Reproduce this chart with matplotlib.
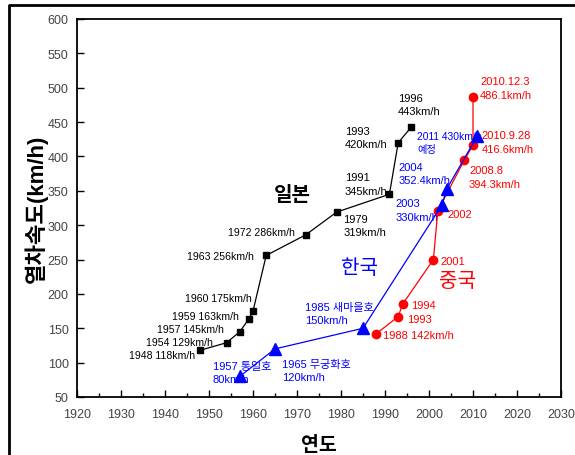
import matplotlib
matplotlib.use("Agg")
import matplotlib.pyplot as plt
from matplotlib.lines import Line2D
from matplotlib.ticker import MultipleLocator
from matplotlib import font_manager as fm

plt.rcParams['font.family'] = ['Liberation Sans', 'Noto Sans CJK KR', 'DejaVu Sans']

# Data
japan_years = [1948, 1954, 1957, 1959, 1960, 1963, 1972, 1979, 1991, 1993, 1996]
japan_speed = [118, 129, 145, 163, 175, 256, 286, 319, 345, 420, 443]

korea_years = [1957, 1965, 1985, 2003, 2004, 2011]
korea_speed = [80, 120, 150, 330, 352.4, 430]

china_years = [1988, 1993, 1994, 2001, 2002, 2008, 2010, 2010]
china_speed = [142, 167, 185, 250, 321, 394.3, 416.6, 486.1]

x_ticks = list(range(1920, 2031, 10))
y_ticks = list(range(50, 601, 50))

japan_labels_low = [
    ("1948 118km/h", 1946.8, 111),
    ("1954 129km/h", 1950.9, 130),
    ("1957 145km/h", 1953.4, 149),
    ("1959 163km/h", 1956.8, 168),
    ("1960 175km/h", 1959.8, 194),
    ("1963 256km/h", 1960.2, 255),
    ("1972 286km/h", 1969.5, 290),
]
japan_labels_high = [
    ("1979\n319km/h", 1980.5, 300),
    ("1991\n345km/h", 1980.9, 360),
    ("1993\n420km/h", 1980.9, 428),
    ("1996\n443km/h", 1993.0, 476),
]
korea_labels = [
    ("1957 통일호\n80km/h", 1950.9, 86, 8),
    ("1965 무궁화호\n120km/h", 1966.6, 89, 8),
    ("1985 새마을호\n150km/h", 1971.8, 171, 8),
    ("2003\n330km/h", 1992.3, 322, 8),
    ("2004\n352.4km/h", 1993.0, 375, 8),
    ("2011 430km/h\n예정", 1997.3, 420, 7.4),
]
china_labels = [
    ("1988 142km/h", 1989.5, 140),
    ("1993", 1995.0, 163.5),
    ("1994", 1995.9, 184),
    ("2001", 2002.5, 248),
    ("2002", 2004.3, 316),
    ("2008.8\n394.3km/h", 2009.1, 370),
    ("2010.9.28\n416.6km/h", 2012.0, 421),
    ("2010.12.3\n486.1km/h", 2011.6, 499.5),
]

# narrow font for the lower Japanese labels if available
try:
    fm.findfont(fm.FontProperties(family='Liberation Sans Narrow'), fallback_to_default=False)
    narrow_family = ['Liberation Sans Narrow', 'Noto Sans CJK KR']
    narrow_size = 9
except Exception:
    narrow_family = ['Liberation Sans', 'Noto Sans CJK KR']
    narrow_size = 7.6

fig = plt.figure(figsize=(5.75, 4.56), dpi=100)
ax = fig.add_axes([77/575, 1-398/456, (561-77)/575, (398-20)/456])

ax.plot(japan_years, japan_speed, color='black', lw=0.9, marker='s', ms=5,
        mfc='black', mec='black', zorder=3)
ax.plot(korea_years, korea_speed, color='#0000FF', lw=0.9, marker='^', ms=8,
        mfc='#0000FF', mec='#0000FF', zorder=4)
ax.plot(china_years, china_speed, color='#FF0000', lw=0.9, marker='o', ms=6,
        mfc='#FF0000', mec='#FF0000', zorder=3)

for t, x, y in japan_labels_low:
    ax.text(x, y, t, ha='right', va='center', fontsize=narrow_size, family=narrow_family,
            color='black', zorder=2)
for t, x, y in japan_labels_high:
    ax.text(x, y, t, ha='left', va='center', fontsize=8, color='black',
            linespacing=1.4, zorder=2)
for t, x, y, s in korea_labels:
    ax.text(x, y, t, ha='left', va='center', fontsize=s, color='#0000FF',
            linespacing=1.4, zorder=2)
for t, x, y in china_labels:
    ax.text(x, y, t, ha='left', va='center', fontsize=8, color='#FF0000',
            linespacing=1.4, zorder=2)

ax.text(1969, 344, "일본", ha='center', va='center', fontsize=14.5, fontweight='bold', color='black')
ax.text(1984.3, 239, "한국", ha='center', va='center', fontsize=14.5, color='#0000FF')
ax.text(2006.4, 219, "중국", ha='center', va='center', fontsize=14.5, color='#FF0000')

ax.set_xlim(1920, 2030)
ax.set_ylim(50, 600)
ax.set_xticks(x_ticks)
ax.set_yticks(y_ticks)
ax.xaxis.set_minor_locator(MultipleLocator(5))
ax.tick_params(axis='both', which='major', direction='in', length=5, width=1,
               labelsize=9, labelcolor='#444444')
ax.tick_params(axis='x', which='major', pad=8)
ax.tick_params(axis='y', which='major', pad=6)
ax.tick_params(axis='x', which='minor', direction='in', length=3, width=1)
ax.tick_params(top=False, right=False)
for s in ax.spines.values():
    s.set_linewidth(1.3)

ax.set_xlabel("연도", fontsize=14, fontweight='bold', labelpad=11)
ax.set_ylabel("열차속도(km/h)", fontsize=16, fontweight='bold', labelpad=0)

# figure frame
fig.add_artist(Line2D([9/575, 9/575, 1.0], [0, 1-6/456, 1-6/456],
                      transform=fig.transFigure, color='black', lw=2))

fig.savefig("out.png", dpi=100)
